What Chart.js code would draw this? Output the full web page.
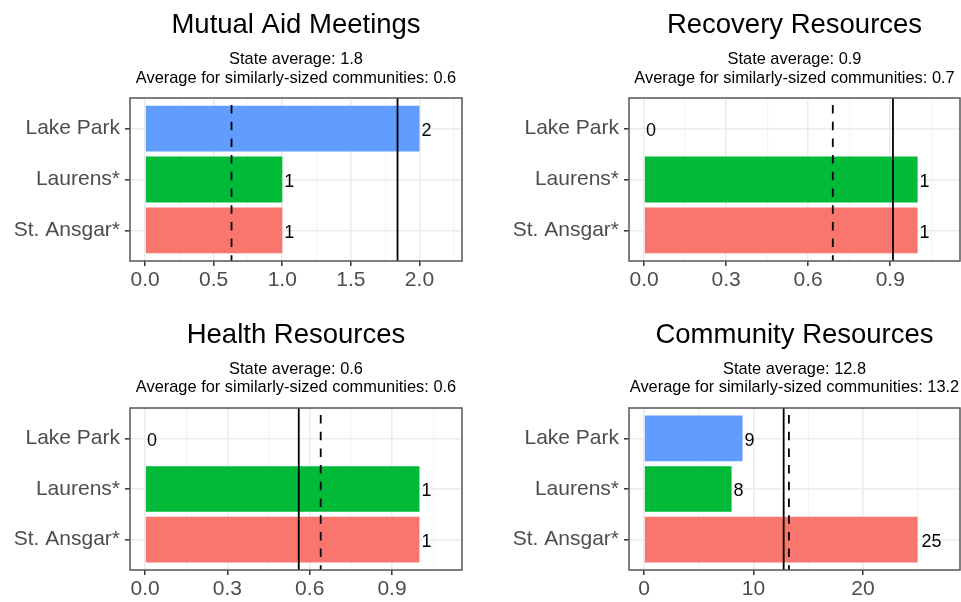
<!DOCTYPE html>
<html><head><meta charset="utf-8">
<script src="https://cdn.jsdelivr.net/npm/chart.js@4/dist/chart.umd.min.js"></script>
<style>
html,body{margin:0;padding:0;background:#fff;width:961px;height:602px;overflow:hidden}
canvas{position:absolute;display:block}
</style></head><body>
<canvas id="c0" style="left:0px;top:0px" width="480" height="300"></canvas>
<canvas id="c1" style="left:480px;top:0px" width="481" height="300"></canvas>
<canvas id="c2" style="left:0px;top:300px" width="480" height="302"></canvas>
<canvas id="c3" style="left:480px;top:300px" width="481" height="302"></canvas>
<script>
// ---------- data ----------
const categories = ["Lake Park", "Laurens*", "St. Ansgar*"];
const barColors = ["#619CFF", "#00BA38", "#F8766D"];
const titles = ["Mutual Aid Meetings", "Recovery Resources", "Health Resources", "Community Resources"];
const mutualAidMeetings = [2, 1, 1];
const recoveryResources = [0, 1, 1];
const healthResources = [0, 1, 1];
const communityResources = [9, 8, 25];
const stateAverages = [1.84, 0.91, 0.56, 12.76];
const similarAverages = [0.63, 0.69, 0.64, 13.24];
const axisLimits = [2.2, 1.1, 1.1, 27.5];
const majorTicks = [[0, 0.5, 1, 1.5, 2], [0, 0.3, 0.6, 0.9], [0, 0.3, 0.6, 0.9], [0, 10, 20]];
const majorTickLabels = [["0.0", "0.5", "1.0", "1.5", "2.0"], ["0.0", "0.3", "0.6", "0.9"], ["0.0", "0.3", "0.6", "0.9"], ["0", "10", "20"]];
const minorTicks = [[0.25, 0.75, 1.25, 1.75, 2.25], [0.15, 0.45, 0.75, 1.05], [0.15, 0.45, 0.75, 1.05], [5, 15, 25]];
const seriesList = [mutualAidMeetings, recoveryResources, healthResources, communityResources];

// ---------- layout ----------
const FONT = '"Liberation Sans", Arial, Helvetica, sans-serif';
const panels = [
  {id: 'c0', w: 480, h: 300, area: {l: 130, r: 462, t: 98, b: 261}, titleY: 33, sub1Y: 64, sub2Y: 82.5},
  {id: 'c1', w: 481, h: 300, area: {l: 149, r: 480, t: 98, b: 261}, titleY: 33, sub1Y: 64, sub2Y: 82.5},
  {id: 'c2', w: 480, h: 302, area: {l: 130, r: 462, t: 108, b: 270}, titleY: 43.3, sub1Y: 74, sub2Y: 92.3},
  {id: 'c3', w: 481, h: 302, area: {l: 149, r: 480, t: 108, b: 270}, titleY: 43.3, sub1Y: 74, sub2Y: 92.3}
];

function makePanelPlugin(i, p) {
  return {
    id: 'panelDecor' + i,
    afterDatasetsDraw(chart) {
      const ctx = chart.ctx, a = chart.chartArea, xs = chart.scales.x, ys = chart.scales.y;
      ctx.save();
      // reference lines
      const xSolid = xs.getPixelForValue(stateAverages[i]);
      const xDash = xs.getPixelForValue(similarAverages[i]);
      ctx.strokeStyle = '#000';
      ctx.lineWidth = 1.8;
      ctx.setLineDash([]);
      ctx.beginPath(); ctx.moveTo(xSolid, a.top); ctx.lineTo(xSolid, a.bottom); ctx.stroke();
      ctx.setLineDash([8.5, 8.2]);
      ctx.lineDashOffset = 9.7;
      ctx.beginPath(); ctx.moveTo(xDash, a.top); ctx.lineTo(xDash, a.bottom); ctx.stroke();
      ctx.setLineDash([]);
      // value labels
      ctx.fillStyle = '#000';
      ctx.font = '18px ' + FONT;
      ctx.textAlign = 'left';
      ctx.textBaseline = 'alphabetic';
      seriesList[i].forEach((v, k) => {
        const txt = String(v);
        const tw = ctx.measureText(txt).width;
        ctx.fillText(txt, xs.getPixelForValue(v) + 0.2 * tw, ys.getPixelForValue(k) + 7.3);
      });
      // panel border
      ctx.strokeStyle = '#555';
      ctx.lineWidth = 1.5;
      ctx.strokeRect(a.left, a.top, a.right - a.left, a.bottom - a.top);
      ctx.restore();
    },
    afterDraw(chart) {
      const ctx = chart.ctx, a = chart.chartArea;
      const cx = (a.left + a.right) / 2;
      ctx.save();
      ctx.fillStyle = '#000';
      ctx.textAlign = 'center';
      ctx.textBaseline = 'alphabetic';
      ctx.font = '27.5px ' + FONT;
      ctx.fillText(titles[i], cx, p.titleY);
      ctx.font = '16.4px ' + FONT;
      ctx.fillText('State average: ' + stateAverages[i].toFixed(1), cx, p.sub1Y);
      ctx.fillText('Average for similarly-sized communities: ' + similarAverages[i].toFixed(1), cx, p.sub2Y);
      ctx.restore();
    }
  };
}

panels.forEach((p, i) => {
  const major = majorTicks[i], minor = minorTicks[i];
  const lim = axisLimits[i];
  const isMajor = v => major.indexOf(v) >= 0;
  new Chart(document.getElementById(p.id), {
    type: 'bar',
    data: {
      datasets: [{
        data: seriesList[i].map((v, k) => ({x: v, y: k})),
        backgroundColor: barColors,
        borderWidth: 0,
        barPercentage: 1,
        categoryPercentage: 0.9
      }]
    },
    options: {
      indexAxis: 'y',
      responsive: false,
      animation: false,
      events: [],
      layout: {padding: {top: p.area.t, left: 0, right: p.w - p.area.r, bottom: 0}},
      plugins: {legend: {display: false}, tooltip: {enabled: false}, title: {display: false}},
      scales: {
        x: {
          type: 'linear',
          min: -0.05 * lim,
          max: 1.05 * lim,
          offset: false,
          afterBuildTicks: s => { s.ticks = major.concat(minor).sort((a, b) => a - b).map(v => ({value: v})); },
          afterFit: s => { s.height = p.h - p.area.b; },
          ticks: {
            autoSkip: false, maxRotation: 0, minRotation: 0,
            callback: v => { const k = major.indexOf(v); return k >= 0 ? majorTickLabels[i][k] : ''; },
            color: '#4D4D4D',
            font: {size: 21, family: FONT},
            padding: 2
          },
          grid: {
            offset: false,
            color: c => (c.tick && isMajor(c.tick.value)) ? '#EBEBEB' : '#F3F3F3',
            lineWidth: c => (c.tick && isMajor(c.tick.value)) ? 1.6 : 1.2,
            tickLength: 5,
            tickColor: c => (c.tick && isMajor(c.tick.value)) ? '#333333' : 'rgba(0,0,0,0)',
            tickWidth: 1.5
          },
          border: {display: false}
        },
        y: {
          type: 'linear',
          reverse: true,
          min: -0.6,
          max: 2.6,
          offset: false,
          afterBuildTicks: s => { s.ticks = categories.map((c, k) => ({value: k})); },
          afterFit: s => { s.width = p.area.l; },
          ticks: {
            autoSkip: false,
            callback: v => categories[v],
            color: '#4D4D4D',
            font: {size: 21, family: FONT},
            padding: 5
          },
          grid: {
            offset: false,
            color: '#EBEBEB',
            lineWidth: 1.6,
            tickLength: 5,
            tickColor: '#333333',
            tickWidth: 1.5
          },
          border: {display: false}
        }
      }
    },
    plugins: [makePanelPlugin(i, p)]
  });
});
</script>
</body></html>
